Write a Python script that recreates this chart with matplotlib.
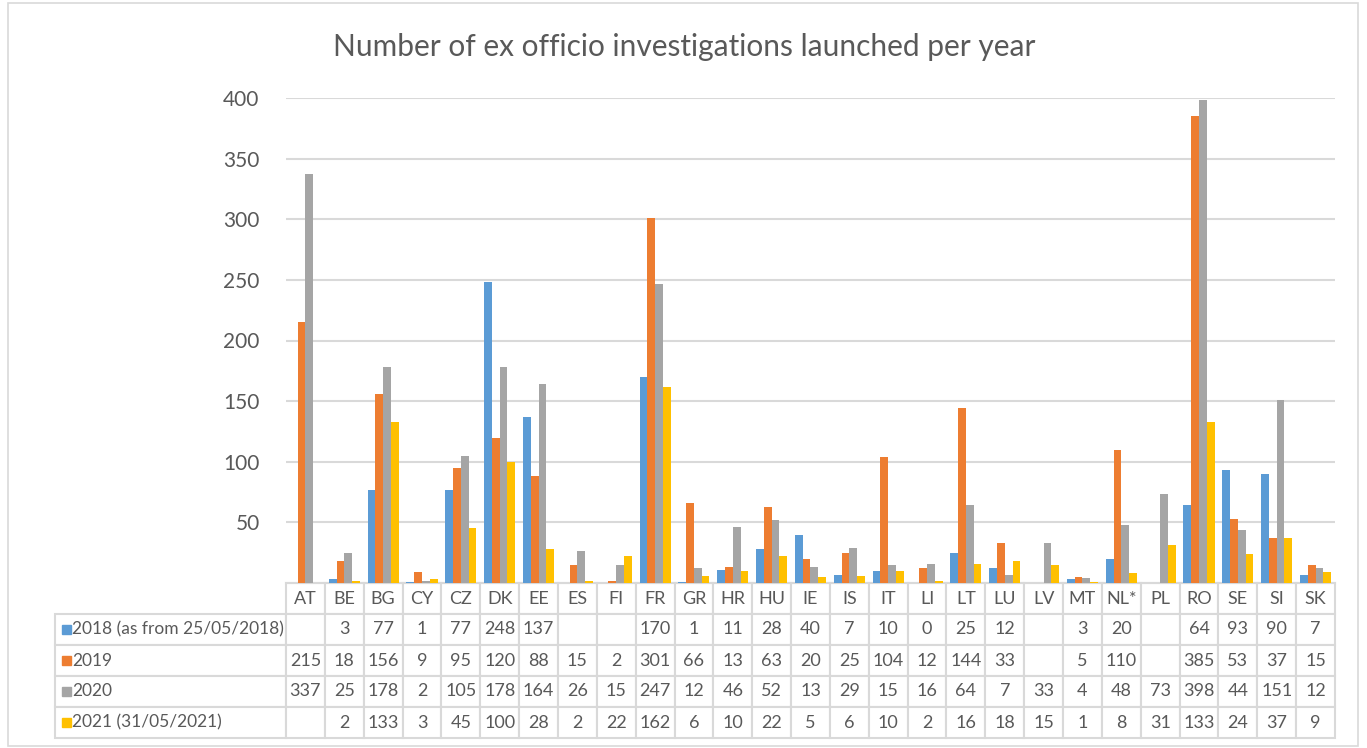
import numpy as np
import matplotlib.pyplot as plt
from matplotlib.patches import Rectangle

plt.rcParams['font.family'] = ['Lato', 'DejaVu Sans']

# -------------------------
# Data
# -------------------------

countries = ["AT", "BE", "BG", "CY", "CZ", "DK", "EE", "ES", "FI", "FR", "GR", "HR", "HU", "IE",
             "IS", "IT", "LI", "LT", "LU", "LV", "MT", "NL*", "PL", "RO", "SE", "SI", "SK"]

series_names = ["2018 (as from 25/05/2018)", "2019", "2020", "2021 (31/05/2021)"]

y2018 = [None, 3, 77, 1, 77, 248, 137, None, None, 170, 1, 11, 28, 40,
         7, 10, 0, 25, 12, None, 3, 20, None, 64, 93, 90, 7]
y2019 = [215, 18, 156, 9, 95, 120, 88, 15, 2, 301, 66, 13, 63, 20,
         25, 104, 12, 144, 33, None, 5, 110, None, 385, 53, 37, 15]
y2020 = [337, 25, 178, 2, 105, 178, 164, 26, 15, 247, 12, 46, 52, 13,
         29, 15, 16, 64, 7, 33, 4, 48, 73, 398, 44, 151, 12]
y2021 = [None, 2, 133, 3, 45, 100, 28, 2, 22, 162, 6, 10, 22, 5,
         6, 10, 2, 16, 18, 15, 1, 8, 31, 133, 24, 37, 9]

colors = ["#5B9BD5", "#ED7D31", "#A5A5A5", "#FFC000"]
text_color = "#595959"
line_color = "#D9D9D9"

series = [y2018, y2019, y2020, y2021]

# -------------------------
# Figure / axes
# -------------------------

W, H = 1367, 748
fig = plt.figure(figsize=(W / 100, H / 100), dpi=100)

ax_l, ax_r, ax_t, ax_b = 286, 1335, 98, 583
ax = fig.add_axes([ax_l / W, (H - ax_b) / H, (ax_r - ax_l) / W, (ax_b - ax_t) / H])

x = np.arange(len(countries))
bw = 0.2
for i, (vals, c) in enumerate(zip(series, colors)):
    v = np.array([np.nan if a is None else a for a in vals], dtype=float)
    ax.bar(x + (i - 1.5) * bw, v, width=bw, color=c, zorder=3)

ax.set_xlim(-0.5, len(countries) - 0.5)
ax.set_ylim(0, 400)
ax.set_yticks(range(50, 401, 50))
ax.set_xticks([])
ax.tick_params(axis="y", length=0, pad=19, labelsize=15, labelcolor=text_color)
ax.grid(axis="y", color=line_color, linewidth=1.5, zorder=0)
for s in ["left", "right", "top"]:
    ax.spines[s].set_visible(False)
ax.spines["bottom"].set_color(line_color)
ax.spines["bottom"].set_linewidth(1.5)

fig.text(684 / W, 1 - 47 / H, "Number of ex officio investigations launched per year",
         ha="center", va="center", fontsize=21.5, color=text_color)

# -------------------------
# Data table
# -------------------------

axw = ax_r - ax_l
axh = ax_b - ax_t
label_w = 231
row_h = 31
n_rows = 5

cell_text = [[""] + countries]
for name, vals in zip(series_names, series):
    cell_text.append([name] + ["" if a is None else str(a) for a in vals])

col_widths = [label_w / axw] + [1 / len(countries)] * len(countries)
tbl = ax.table(cellText=cell_text, cellLoc="center", colWidths=col_widths,
               bbox=[-label_w / axw, -n_rows * row_h / axh,
                     1 + label_w / axw, n_rows * row_h / axh])
tbl.auto_set_font_size(False)
tbl.set_fontsize(13)

for (r, c), cell in tbl.get_celld().items():
    cell.set_edgecolor(line_color)
    cell.set_linewidth(1.5)
    cell.get_text().set_color(text_color)
    if r == 0 and c == 0:
        cell.visible_edges = "open"
    elif c == 0:
        cell._loc = "left"
        cell.PAD = 17 / label_w
        cell.get_text().set_ha("left")
        cell.get_text().set_fontsize(12.5)

# legend keys in the row label cells
for i, c in enumerate(colors):
    yc = -((i + 1) * row_h + row_h / 2) / axh
    ax.add_patch(Rectangle(((62 - ax_l) / axw, yc - 4.5 / axh), 9 / axw, 9 / axh,
                           transform=ax.transAxes, color=c, clip_on=False))

# outer frame
fig.add_artist(Rectangle((8 / W, 2 / H), (1358 - 8) / W, (745 - 2) / H,
                         transform=fig.transFigure, fill=False,
                         edgecolor=line_color, linewidth=1.2))

fig.savefig("out.png", dpi=100)
